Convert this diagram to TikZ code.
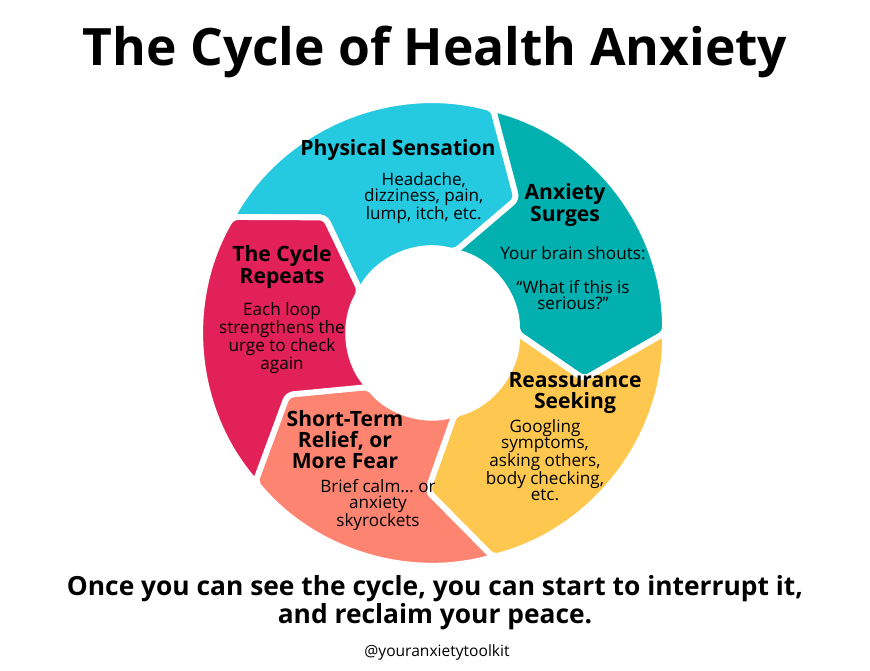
\documentclass[tikz,border=0pt]{standalone}
\usepackage{fontspec}
\setmainfont{Open Sans}
\usetikzlibrary{positioning, calc}
\definecolor{SensationColor}{RGB}{38,202,224}
\definecolor{SurgeColor}{RGB}{3,176,176}
\definecolor{SeekColor}{RGB}{254,200,80}
\definecolor{ReliefColor}{RGB}{254,132,114}
\definecolor{RepeatColor}{RGB}{225,33,88}
\newcommand{\ringpiece}[3]{%
  \filldraw[piece, fill=#3] (#1:232) arc[start angle=#1, end angle=#2, radius=232]
    -- ($(#2-17:158)$) -- (#2:84) arc[start angle=#2, end angle=#1, radius=84]
    -- ($(#1-17:158)$) -- cycle;}
\tikzset{
  piece/.style={draw=white, line width=5pt, rounded corners=5pt},
  heading/.style={font=\bfseries\fontsize{18}{18}\selectfont, align=center},
  body/.style={font=\fontsize{14.6}{13.5}\selectfont, align=center}
}
\begin{document}
\begin{tikzpicture}[x=0.03cm, y=0.03cm]
  \useasboundingbox (0,0) rectangle (870,670);
  % Title
  \node (title) at (435,618) {\bfseries\fontsize{44}{46}\selectfont The Cycle of Health Anxiety};

  % Ring
  \begin{scope}[shift={(433,337)}]
    \ringpiece{150}{75}{SensationColor}
    \ringpiece{75}{0}{SurgeColor}
    \ringpiece{0}{-75}{SeekColor}
    \ringpiece{-75}{-140}{ReliefColor}
    \ringpiece{-140}{-210}{RepeatColor}
  \end{scope}

  % Physical sensation
  \node[heading] (sensation) at (398,520) {Physical Sensation};
  \node[body, below=3pt of sensation, xshift=22pt] (sensationtext) {Headache,\\dizziness, pain,\\lump, itch, etc.};

  % Anxiety surges
  \node[heading] (surge) at (565,465) {Anxiety\\Surges};
  \node[body] (surgetext) at (573,417) {Your brain shouts:};
  \node[body] (surgequote) at (573,375) {``What if this is\\serious?''};

  % Reassurance seeking
  \node[heading] (seek) at (575,277) {Reassurance\\Seeking};
  \node[body] (seektext) at (545,210) {Googling\\symptoms,\\asking others,\\body checking,\\etc.};

  % Short-term relief
  \node[heading] (relief) at (345,230) {Short-Term\\Relief, or\\More Fear};
  \node[body] (relieftext) at (378,165) {Brief calm\dots{} or\\anxiety\\skyrockets};

  % Cycle repeats
  \node[heading] (repeat) at (282,403) {The Cycle\\Repeats};
  \node[body] (repeattext) at (282,332) {Each loop\\strengthens the\\urge to check\\again};

  % Bottom
  \node[font=\bfseries\fontsize{22.5}{24}\selectfont, align=center] (closing) at (435,67)
    {Once you can see the cycle, you can start to interrupt it,\\and reclaim your peace.};
  \node[font=\fontsize{13.3}{14}\selectfont] (handle) at (437,18) {@youranxietytoolkit};
\end{tikzpicture}
\end{document}
